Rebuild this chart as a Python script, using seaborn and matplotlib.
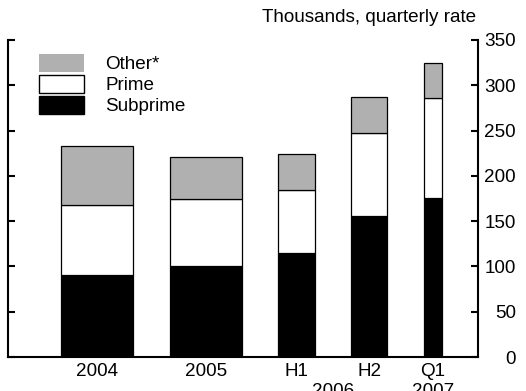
import numpy as np
import pandas as pd
import matplotlib
matplotlib.use("Agg")
import matplotlib.pyplot as plt
import seaborn as sns
from matplotlib.patches import Patch

# ---------------- data ----------------
periods = ["2004", "2005", "H1", "H2", "Q1"]
year_group = ["", "", "2006", "2006", "2007"]
period_quarters = [4, 4, 2, 2, 1]          # length of each period in quarters
subprime = [91, 101, 115, 156, 176]
prime = [77, 73, 69, 91, 110]
other = [65, 47, 40, 40, 39]
series = ["Other*", "Prime", "Subprime"]
yticks = [0, 50, 100, 150, 200, 250, 300, 350]

# ---------------- style ----------------
sns.set_theme(style="ticks")
plt.rcParams["font.family"] = ["Liberation Sans", "DejaVu Sans"]
for k in ["text.color", "axes.labelcolor", "xtick.color", "ytick.color", "axes.edgecolor"]:
    plt.rcParams[k] = "black"
FS = 13.6
palette = {"Other*": "#b0b0b0", "Prime": "white", "Subprime": "black"}

# ---------------- layout of bars (width proportional to period length) ----------------
gap, left_margin, right_margin = 2.0, 2.9, 2.0
lefts = []
pos = left_margin
for q in period_quarters:
    lefts.append(pos)
    pos += q + gap
rights = [l + q for l, q in zip(lefts, period_quarters)]
centers = [(l + r) / 2 for l, r in zip(lefts, rights)]
xmax = rights[-1] + right_margin
edges = sorted(set(lefts + rights))

values = {"Other*": other, "Prime": prime, "Subprime": subprime}
rows = []
for s in series:
    for c, v in zip(centers, values[s]):
        rows.append({"x": c, "value": v, "series": s})
df = pd.DataFrame(rows)

fig = plt.figure(figsize=(5.26, 3.91), dpi=100)
ax = fig.add_axes([8 / 526, 34 / 391, 470 / 526, 317 / 391])

sns.histplot(data=df, x="x", weights="value", hue="series", hue_order=series,
             palette=palette, bins=edges, multiple="stack", element="bars",
             fill=True, alpha=1, edgecolor="black", linewidth=0.9,
             legend=False, ax=ax)

ax.set_xlim(0, xmax)
ax.set_ylim(0, 350)
ax.set_yticks(yticks)
ax.set_xticks(centers, periods)
ax.set_xlabel("")
ax.set_ylabel("")

ax.tick_params(axis="y", left=True, right=True, labelleft=False, labelright=True,
               direction="in", length=5, width=1.5, pad=27.4, labelsize=FS)
for t in ax.yaxis.get_major_ticks():
    t.label2.set_horizontalalignment("right")
ax.tick_params(axis="x", bottom=False, length=0, pad=4.5, labelsize=FS)

ax.spines["top"].set_visible(False)
for s in ["left", "right", "bottom"]:
    ax.spines[s].set_visible(True)
    ax.spines[s].set_linewidth(1.5)
    ax.spines[s].set_color("black")

# second line of x labels (years)
groups = {}
for c, g in zip(centers, year_group):
    if g:
        groups.setdefault(g, []).append(c)
for g, cs in groups.items():
    ax.annotate(g, xy=(np.mean(cs), 0), xycoords=("data", "axes fraction"),
                xytext=(0, -18.5), textcoords="offset points",
                ha="center", va="top", fontsize=FS)

handles = [Patch(facecolor=palette["Other*"], edgecolor="none"),
           Patch(facecolor="white", edgecolor="black", linewidth=1.0),
           Patch(facecolor="black", edgecolor="black")]
ax.legend(handles=handles, labels=series, loc="upper left",
          bbox_to_anchor=(0.0666, 0.956), frameon=False, borderpad=0,
          borderaxespad=0, handlelength=2.38, handleheight=1.1,
          handletextpad=1.1, labelspacing=0.08, fontsize=FS)

fig.text(476 / 526, 1 - 21.8 / 391, "Thousands, quarterly rate",
         ha="right", va="baseline", fontsize=FS)
fig.text(30 / 526, 1 + 0.3 / 391, "Number of Foreclosures Started",
         ha="left", va="baseline", fontsize=FS, fontweight="bold")

fig.savefig("out.png", dpi=100)
